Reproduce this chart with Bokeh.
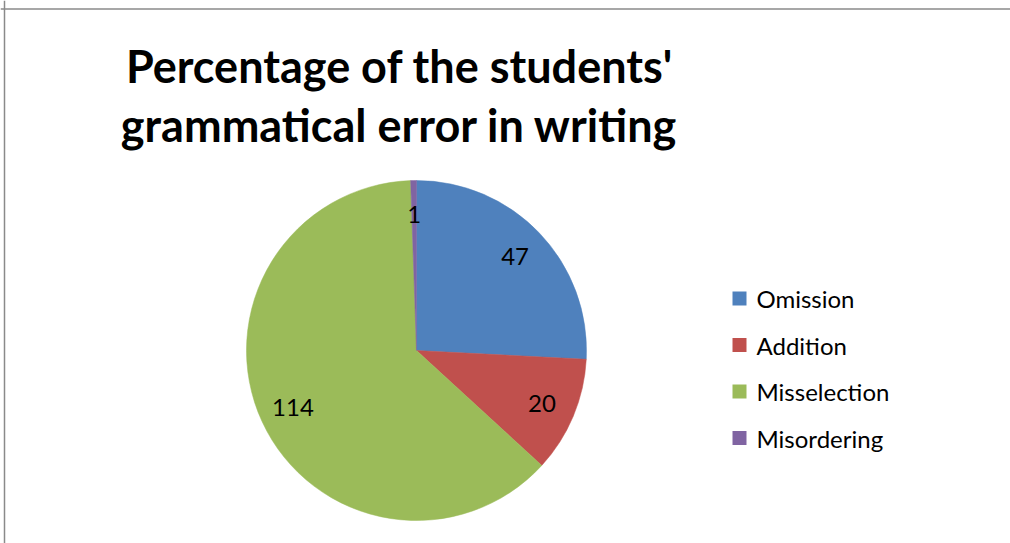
import numpy as np
from bokeh.plotting import figure
from bokeh.models import Range1d, Span, Label, ColumnDataSource
from bokeh.core.properties import value
from bokeh.embed import file_html
from bokeh.resources import INLINE

categories = ["Omission", "Addition", "Misselection", "Misordering"]
counts = [47, 20, 114, 1]
colors = ["#4F81BD", "#C0504D", "#9BBB59", "#8064A2"]
title_lines = ["Percentage of the students'", "grammatical error in writing"]

W, H = 1010, 543
FONT = "Lato"

p = figure(width=W, height=H, output_backend="svg", toolbar_location=None,
           x_range=Range1d(0, W), y_range=Range1d(0, H),
           min_border=0, min_border_left=0, min_border_right=0,
           min_border_top=0, min_border_bottom=0)
p.axis.visible = False
p.grid.visible = False
p.outline_line_color = None
p.background_fill_color = "white"
p.border_fill_color = "white"

# frame
p.add_layout(Span(location=H - 8.5, dimension="width", line_color="#8a8a8a", line_width=1.5))
p.add_layout(Span(location=4, dimension="height", line_color="#8a8a8a", line_width=1.5))

# pie
cx, cy, R = 416, H - 350, 170
vals = np.array(counts, dtype=float)
frac = vals / vals.sum()
cum = np.concatenate([[0], np.cumsum(frac)])
start = np.pi / 2 - cum[:-1] * 2 * np.pi
end = np.pi / 2 - cum[1:] * 2 * np.pi
mid = (start + end) / 2
src = ColumnDataSource(dict(start=start, end=end, color=colors, cat=categories,
                            lx=cx + 0.8 * R * np.cos(mid), ly=cy + 0.8 * R * np.sin(mid),
                            lab=[str(c) for c in counts]))
p.wedge(x=cx, y=cy, radius=R, start_angle="start", end_angle="end", direction="clock",
        fill_color="color", line_color="color", line_width=0.5, source=src)
p.text(x="lx", y="ly", text="lab", source=src, text_align="center", text_baseline="middle",
       text_font=value(FONT), text_font_size="24px", text_color="black")

# legend
ly0, dy = H - 298, 46.5
leg = ColumnDataSource(dict(x=[739] * 4, tx=[756] * 4,
                            y=[ly0 - i * dy for i in range(4)],
                            color=colors, cat=categories))
p.scatter(x="x", y="y", source=leg, marker="square", size=14, fill_color="color", line_color=None)
p.text(x="tx", y="y", text="cat", source=leg, text_align="left", text_baseline="middle",
       text_font=value(FONT), text_font_size="24px", text_color="black")

# title
for i, t in enumerate(title_lines):
    p.add_layout(Label(x=399, y=H - 65 - i * 59, text=t, text_align="center", text_baseline="middle",
                       text_font=FONT, text_font_style="bold", text_font_size="45px", text_color="black"))

open("out.html", "w").write(file_html(p, INLINE))
